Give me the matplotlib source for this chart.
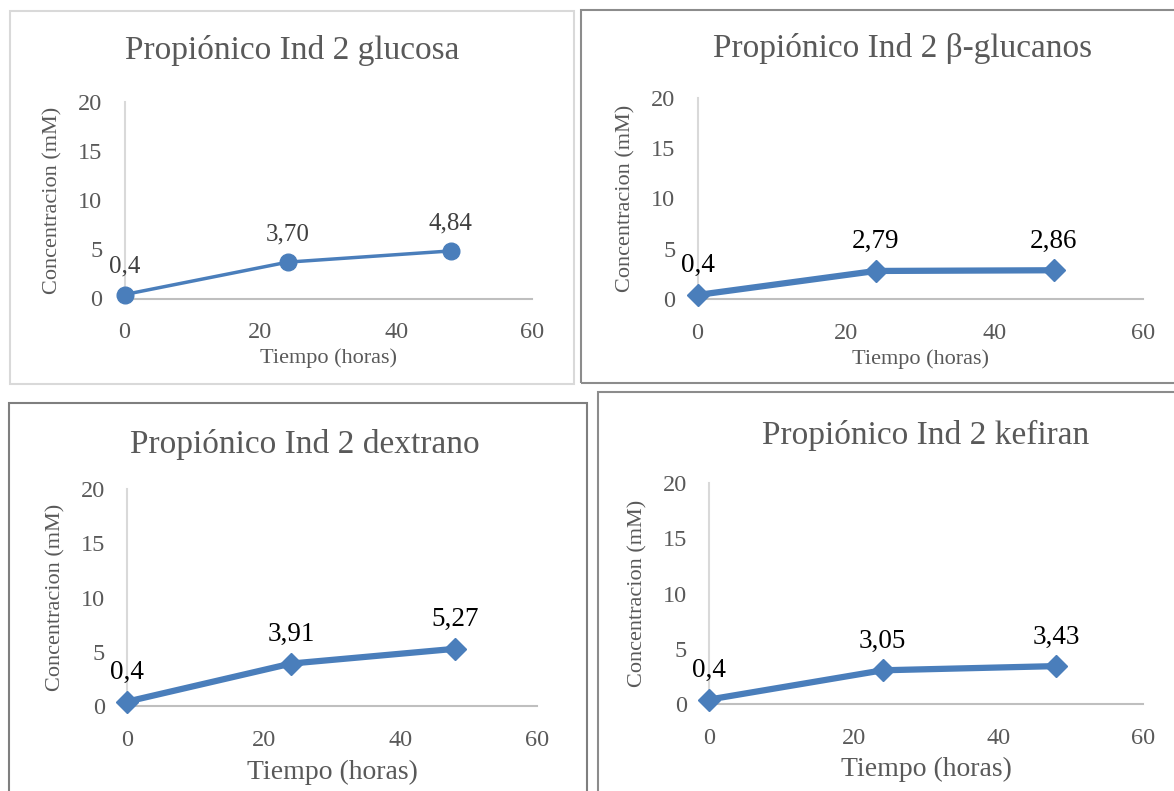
import matplotlib
matplotlib.use("Agg")
import matplotlib.pyplot as plt
from matplotlib.patches import Rectangle

# =================== datos ===================
tiempo = [0, 24, 48]
glucosa = [0.4, 3.70, 4.84]
glucanos = [0.4, 2.79, 2.86]
dextrano = [0.4, 3.91, 5.27]
kefiran = [0.4, 3.05, 3.43]

etiq_glucosa = ["0,4", "3,70", "4,84"]
etiq_glucanos = ["0,4", "2,79", "2,86"]
etiq_dextrano = ["0,4", "3,91", "5,27"]
etiq_kefiran = ["0,4", "3,05", "3,43"]

titulos = [
    "Propiónico Ind 2 glucosa",
    "Propiónico Ind 2 β-glucanos",
    "Propiónico Ind 2 dextrano",
    "Propiónico Ind 2 kefiran",
]
x_ticks = [0, 20, 40, 60]
y_ticks = [0, 5, 10, 15, 20]

W, H = 1174, 791
AZUL = "#4a7ebb"
GRIS_TXT = "#595959"

plt.rcParams["font.family"] = ["Liberation Serif", "DejaVu Serif"]

fig = plt.figure(figsize=(W / 100, H / 100), dpi=100)


def caja(x0, y0, x1, y1, color, lw):
    # rectangulo en pixeles (origen arriba a la izquierda)
    r = Rectangle((x0 / W, 1 - y1 / H), (x1 - x0) / W, (y1 - y0) / H,
                  transform=fig.transFigure, fill=False, edgecolor=color,
                  linewidth=lw)
    fig.add_artist(r)


def eje(px, y, etiquetas, titulo, marker, ms, lw, lab_fs, lab_color,
        xlab_fs, title_xy, xlab_pad):
    x0, y0, x1, y1 = px  # pixeles: izquierda, arriba(20), derecha(60), abajo(0)
    ax = fig.add_axes([x0 / W, 1 - y1 / H, (x1 - x0) / W, (y1 - y0) / H])
    ax.plot(tiempo, y, color=AZUL, linewidth=lw, marker=marker,
            markersize=ms, zorder=3, clip_on=False)
    for xv, yv, t in zip(tiempo, y, etiquetas):
        ax.annotate(t, (xv, yv), xytext=(0, 12), textcoords="offset points",
                    ha="center", va="bottom", fontsize=lab_fs,
                    color=lab_color)
    ax.set_xlim(0, 60)
    ax.set_ylim(0, 20)
    ax.set_xticks(x_ticks)
    ax.set_yticks(y_ticks)
    ax.tick_params(length=0, labelsize=17.5, labelcolor=GRIS_TXT)
    ax.tick_params(axis="x", pad=17)
    ax.tick_params(axis="y", pad=16)
    for s in ["top", "right"]:
        ax.spines[s].set_visible(False)
    ax.spines["left"].set_color("#d9d9d9")
    ax.spines["left"].set_linewidth(1.5)
    ax.spines["bottom"].set_color("#bfbfbf")
    ax.spines["bottom"].set_linewidth(1.5)
    ax.set_xlabel("Tiempo (horas)", fontsize=xlab_fs, color=GRIS_TXT,
                  labelpad=xlab_pad)
    ax.set_ylabel("Concentracion (mM)", fontsize=16, color=GRIS_TXT,
                  labelpad=11)
    ax.patch.set_alpha(0)
    tx, ty = title_xy
    fig.text(tx / W, 1 - ty / H, titulo, ha="center", va="center",
             fontsize=24, color=GRIS_TXT)
    return ax


caja(10, 11, 574, 384, "#d9d9d9", 1.5)
caja(581, 10, 1180, 383, "#8c8c8c", 1.5)
caja(9, 403, 587, 800, "#7f7f7f", 1.5)
caja(598, 392, 1180, 800, "#8c8c8c", 1.5)

eje((124.5, 102, 532, 298.5), glucosa, etiq_glucosa, titulos[0], "o", 12,
    2.5, 18, "#404040", 16, (292, 50), 4)
eje((697.5, 98, 1143, 299), glucanos, etiq_glucanos, titulos[1], "D", 11,
    4.5, 19.5, "black", 16, (903, 48), 4)
eje((127, 489, 537, 706), dextrano, etiq_dextrano, titulos[2], "D", 11,
    4.5, 19.5, "black", 20, (305, 444), 7)
eje((709, 483, 1143, 704), kefiran, etiq_kefiran, titulos[3], "D", 11,
    4.5, 19.5, "black", 20, (926, 435), 6)

fig.savefig("out.png", dpi=100)
